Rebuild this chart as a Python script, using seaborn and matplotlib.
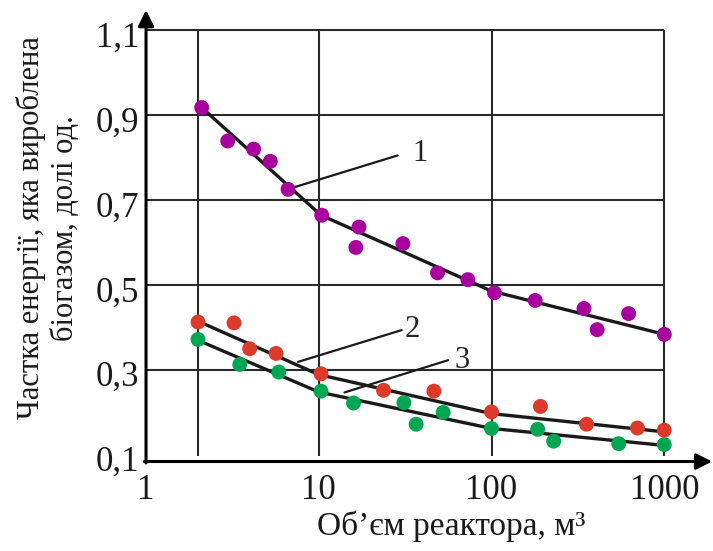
import matplotlib
matplotlib.use("Agg")
import matplotlib.pyplot as plt
import matplotlib.transforms as mtransforms
import seaborn as sns
import numpy as np
import pandas as pd

# ── Data ──────────────────────────────────────────────────────────
vol1 = [2.1, 2.97, 4.2, 5.24, 6.64, 10.4, 17.1, 16.4, 30.7, 48.7, 73, 104, 179, 343, 409, 622, 1000]
share1 = [0.918, 0.839, 0.820, 0.791, 0.725, 0.664, 0.636, 0.588, 0.597, 0.528, 0.512, 0.481,
          0.463, 0.444, 0.394, 0.432, 0.383]

vol2 = [2, 3.23, 3.98, 5.66, 10.3, 23.7, 46.4, 100, 192, 355, 700, 1000]
share2 = [0.412, 0.410, 0.349, 0.338, 0.290, 0.251, 0.249, 0.200, 0.213, 0.171, 0.162, 0.157]

vol3 = [2, 3.49, 5.87, 10.3, 15.9, 31.1, 36.6, 52.5, 100, 185, 229, 545, 1000]
share3 = [0.371, 0.312, 0.294, 0.249, 0.221, 0.222, 0.171, 0.199, 0.161, 0.159, 0.131, 0.125, 0.123]

# fitted curves (piecewise in log scale)
fit1_x = [2.1, 10.3, 100, 1000]
fit1_y = [0.918, 0.664, 0.485, 0.383]
fit2_x = [2, 10, 100, 1000]
fit2_y = [0.414, 0.288, 0.196, 0.153]
fit3_x = [2, 10, 100, 1000]
fit3_y = [0.369, 0.247, 0.161, 0.121]

curve_labels = ["1", "2", "3"]
leader_start = [(7.08, 0.729), (7.59, 0.318), (14.1, 0.246)]
leader_end = [(28.6, 0.805), (30.2, 0.393), (56.1, 0.322)]
label_pos = [(38.3, 0.810), (34.9, 0.394), (68, 0.322)]

x_ticks = [1, 10, 100, 1000]
x_ticklabels = ["1", "10", "100", "1000"]
x_grid = [2, 10, 100, 1000]
y_ticks = [0.1, 0.3, 0.5, 0.7, 0.9, 1.1]
y_ticklabels = ["0,1", "0,3", "0,5", "0,7", "0,9", "1,1"]

COLORS = {"1": "#A8009F", "2": "#DC3A2A", "3": "#00A651"}

# ── Style ─────────────────────────────────────────────────────────
sns.set_style("white")
plt.rcParams.update({
    "font.family": ["Liberation Serif", "DejaVu Serif"],
})

points = pd.concat([
    pd.DataFrame({"vol": vol1, "share": share1, "curve": "1"}),
    pd.DataFrame({"vol": vol2, "share": share2, "curve": "2"}),
    pd.DataFrame({"vol": vol3, "share": share3, "curve": "3"}),
])
fits = pd.concat([
    pd.DataFrame({"vol": fit1_x, "share": fit1_y, "curve": "1"}),
    pd.DataFrame({"vol": fit2_x, "share": fit2_y, "curve": "2"}),
    pd.DataFrame({"vol": fit3_x, "share": fit3_y, "curve": "3"}),
])

fig = plt.figure(figsize=(7.13, 5.51), dpi=100)
ax = fig.add_axes([0.2048, 0.1624, 0.794, 0.8194])
ax.set_xscale("log")
ax.set_xlim(1, 1893)
ax.set_ylim(0.083, 1.148)

# grid (stops at 1000 / 1,1)
ax.hlines(y_ticks[1:], 1, 1000, color="#2a2a2a", lw=1.5, zorder=1)
ax.vlines(x_grid, 0.095, 1.1, color="#2a2a2a", lw=1.5, zorder=1)

sns.lineplot(data=fits, x="vol", y="share", units="curve", estimator=None,
             color="#1a1a1a", lw=2.4, ax=ax, zorder=2, legend=False)
sns.scatterplot(data=points, x="vol", y="share", hue="curve", palette=COLORS,
                s=115, edgecolor="none", ax=ax, zorder=3, legend=False)

# curve labels with leader lines
for lab, p0, p1, pt in zip(curve_labels, leader_start, leader_end, label_pos):
    ax.plot([p0[0], p1[0]], [p0[1], p1[1]], color="#1a1a1a", lw=1.6, zorder=2)
    ax.text(pt[0], pt[1], lab, fontsize=22, ha="center", va="center")

# axes with arrows
for s in ax.spines.values():
    s.set_visible(False)
arrow = dict(arrowstyle="-|>", lw=2.2, color="black", mutation_scale=24,
             shrinkA=0, shrinkB=0)
ax.annotate("", xy=(1, 0), xytext=(-0.003, 0), xycoords="axes fraction",
            arrowprops=arrow, annotation_clip=False)
ax.annotate("", xy=(0, 1), xytext=(0, -0.003), xycoords="axes fraction",
            arrowprops=arrow, annotation_clip=False)

ax.set_xticks(x_ticks)
ax.set_xticklabels(x_ticklabels)
ax.minorticks_off()
ax.set_yticks(y_ticks)
ax.set_yticklabels(y_ticklabels)
ax.tick_params(axis="both", length=0, labelsize=25, colors="#1a1a1a")
ax.tick_params(axis="x", pad=9)
ax.tick_params(axis="y", pad=5)
# y labels sit a few pixels below their grid lines in the original
shift = mtransforms.ScaledTranslation(0, -4 / 100, fig.dpi_scale_trans)
for lbl in ax.get_yticklabels():
    lbl.set_transform(lbl.get_transform() + shift)

ax.set_xlabel("")
ax.set_ylabel("")
fig.text(451 / 713, 1 - 526 / 551, "Об’єм реактора, м³", fontsize=24,
         ha="center", va="center", color="#1a1a1a")
fig.text(48 / 713, 1 - 228 / 551, "Частка енергії, яка вироблена\nбіогазом, долі од.",
         fontsize=22, rotation=90, ha="center", va="center", linespacing=1.2,
         multialignment="center", color="#1a1a1a")

fig.savefig("out.png", dpi=100, facecolor="white")
